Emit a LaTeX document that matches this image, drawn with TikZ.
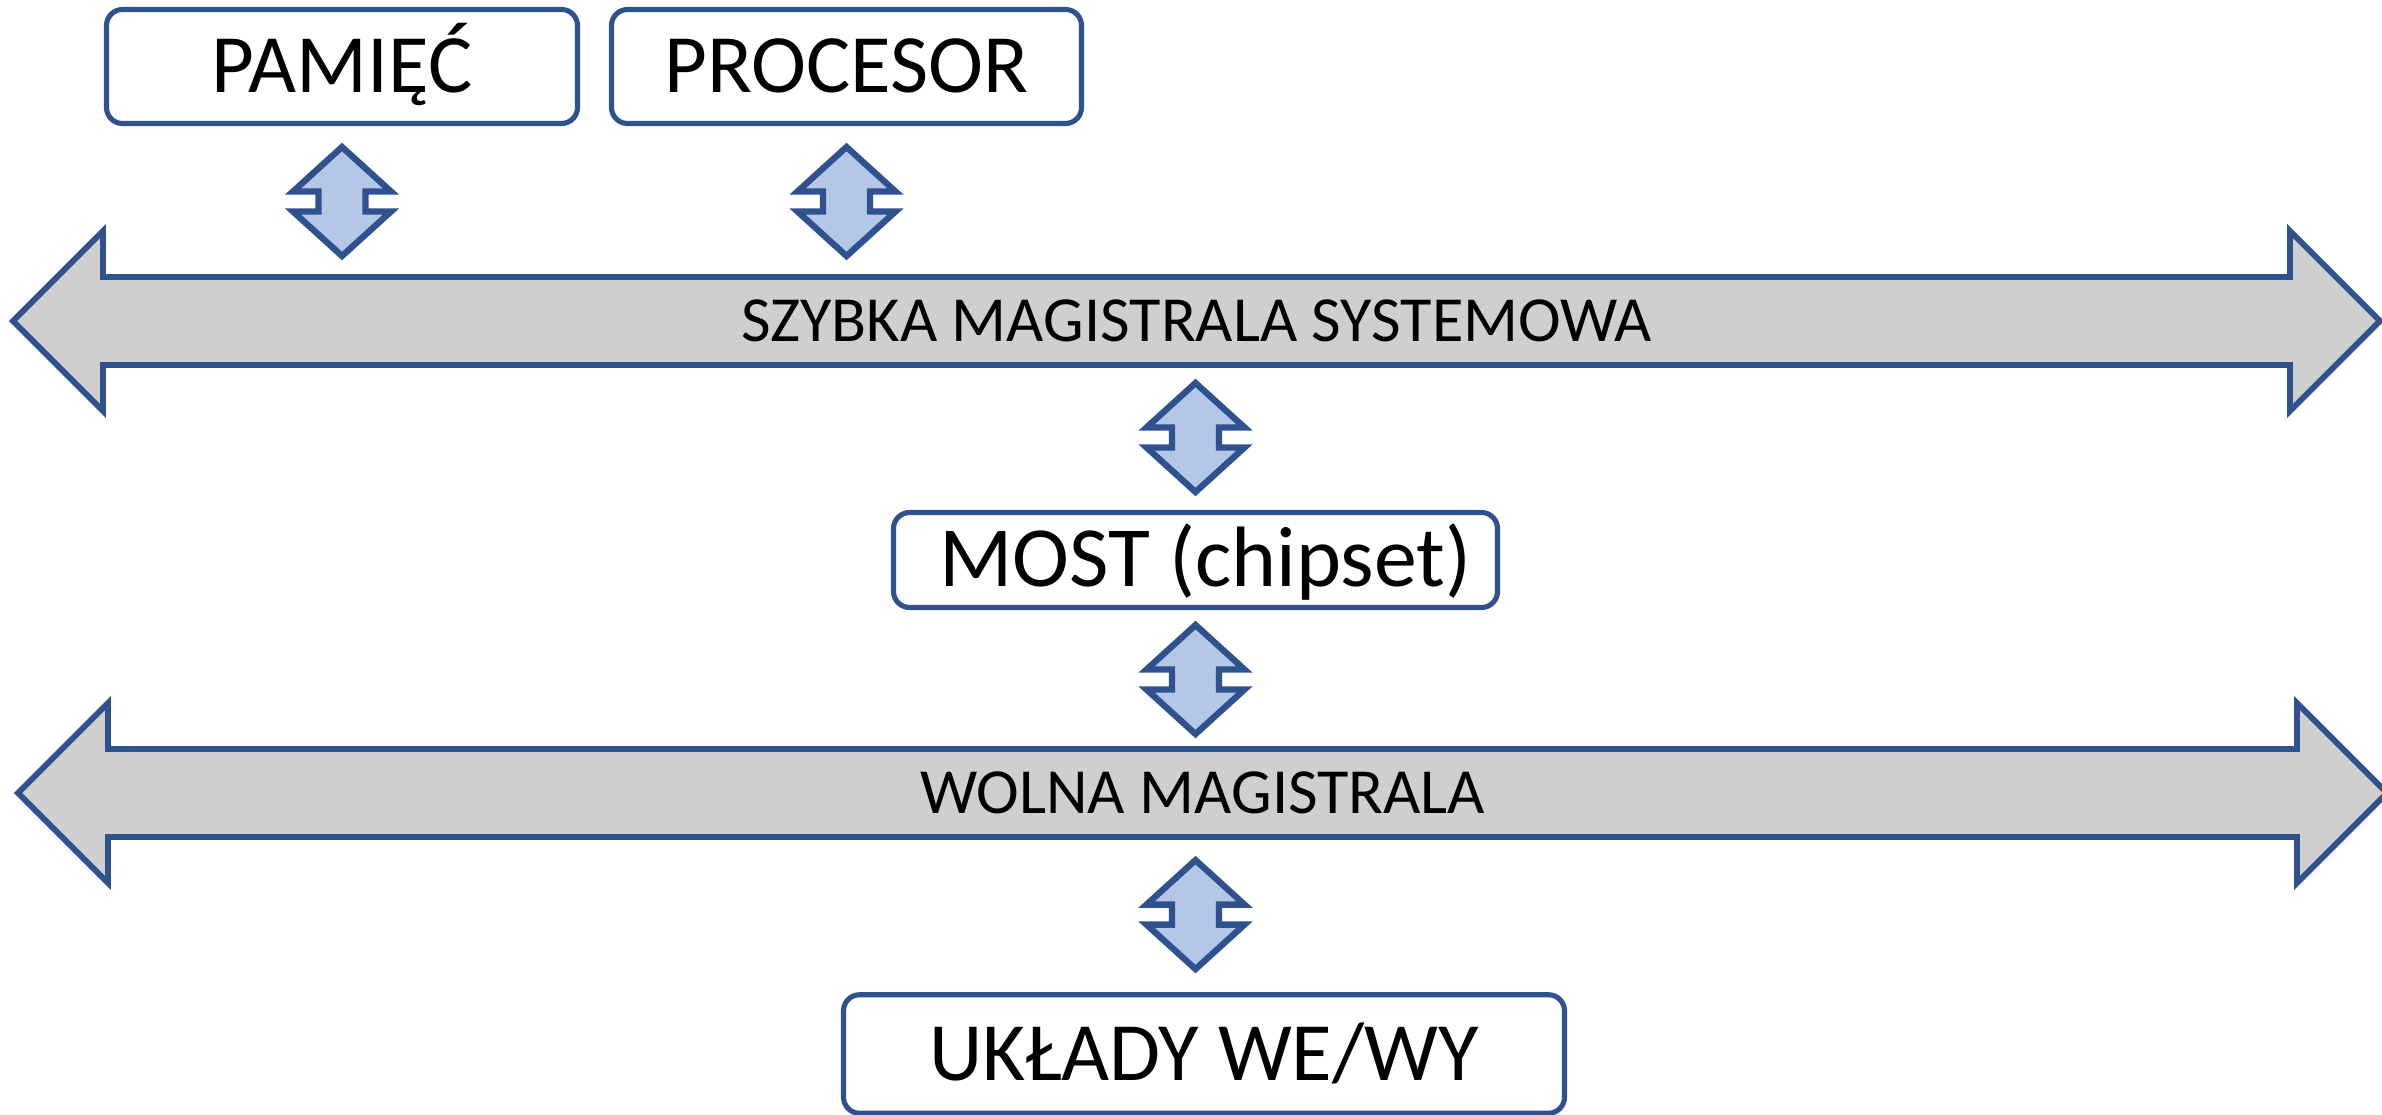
\documentclass[tikz,border=0pt]{standalone}
\usepackage{fontspec}
\setmainfont{Carlito}
\usepackage{tikz}
\usetikzlibrary{calc,backgrounds}
\usepackage{xcolor}
\definecolor{edgeblue}{RGB}{47,82,143}
\definecolor{linkfill}{RGB}{180,199,231}
\definecolor{busfill}{RGB}{208,206,206}

\newcommand{\linkarrow}[2]{%
  \draw[link] ($(#1)!.5!(#2)+(0,.545)$) -- ++(.49,-.445) -- ++(-.255,0) -- ++(0,-.2) -- ++(.255,0)
    -- ++(-.49,-.445) -- ++(-.49,.445) -- ++(.255,0) -- ++(0,.2) -- ++(-.255,0) -- cycle;}
\newcommand{\busoutline}[1]{%
  \draw[bus] (#1.north west) -- ++(0,.46) -- ++(-.9,-.9) -- ++(.9,-.9) -- (#1.south west)
    -- (#1.south east) -- ++(0,-.46) -- ++(.9,.9) -- ++(-.9,.9) -- (#1.north east) -- cycle;}

\begin{document}
\begin{tikzpicture}[line join=miter,
  unit/.style={draw=edgeblue,line width=1.45pt,fill=white,rounded corners=.16cm,
    font=\fontsize{23.6}{28}\selectfont,text height=.53cm,text depth=0pt,inner sep=0pt},
  bustext/.style={inner sep=0pt,outer sep=0pt,minimum height=.88cm,
    font=\fontsize{18.3}{22}\selectfont,text height=.41cm,text depth=0pt},
  bus/.style={draw=edgeblue,fill=busfill,line width=1.65pt},
  link/.style={draw=edgeblue,fill=linkfill,line width=1.8pt}]
\useasboundingbox (0,0) rectangle (23.82,-11.15);
\node[unit,minimum width=4.71cm,minimum height=1.14cm] (pam) at (3.42,-0.665) {PAMIĘĆ};
\node[unit,minimum width=4.70cm,minimum height=1.14cm] (proc) at (8.465,-0.665) {PROCESOR};
\node[bustext,minimum width=21.87cm] (bus1) at (11.965,-3.21) {SZYBKA MAGISTRALA SYSTEMOWA};
\node[unit,minimum width=6.04cm,minimum height=0.95cm,font=\fontsize{24.4}{29}\selectfont]
  (most) at (11.955,-5.60) {\ MOST (chipset)};
\node[bustext,minimum width=21.89cm] (bus2) at (12.025,-7.93) {WOLNA MAGISTRALA};
\node[unit,minimum width=7.21cm,minimum height=1.185cm] (io) at (12.04,-10.54) {UKŁADY WE/WY};
\begin{scope}[on background layer]
\busoutline{bus1}
\busoutline{bus2}
\end{scope}
\linkarrow{pam.south}{pam.south |- bus1.north}
\linkarrow{proc.south}{proc.south |- bus1.north}
\linkarrow{most.north |- bus1.south}{most.north}
\linkarrow{most.south}{most.south |- bus2.north}
\linkarrow{most.south |- bus2.south}{most.south |- io.north}
\end{tikzpicture}
\end{document}
